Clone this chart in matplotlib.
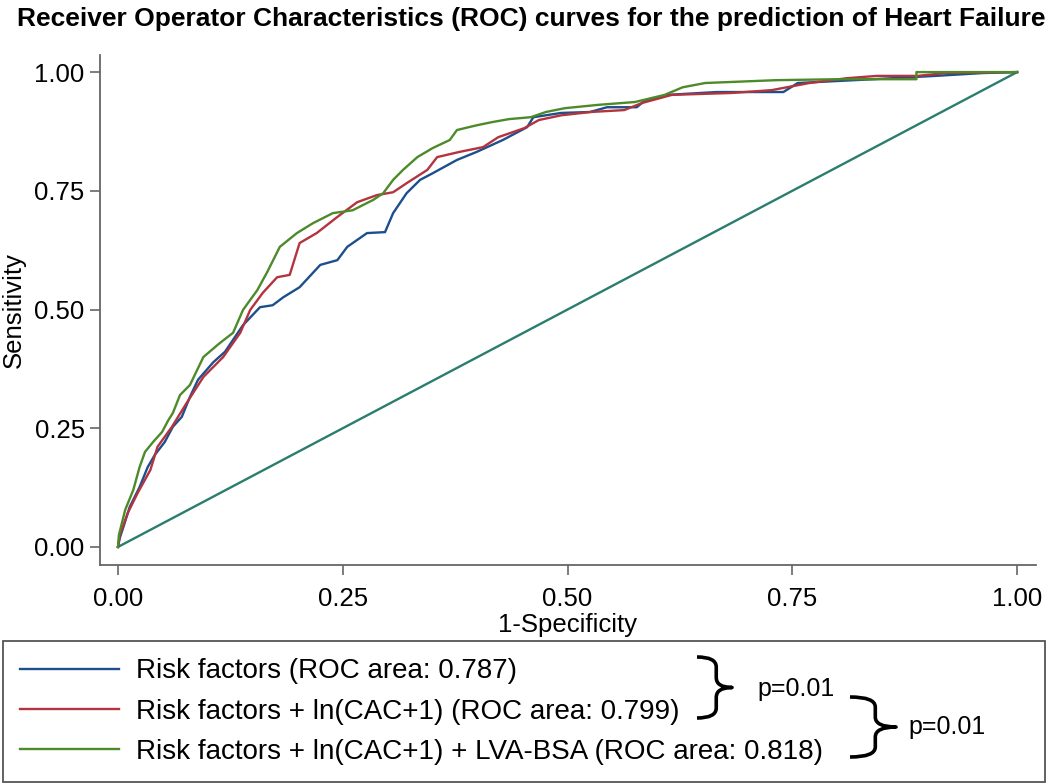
import matplotlib
matplotlib.use("Agg")
import matplotlib.pyplot as plt
from matplotlib.path import Path
from matplotlib.patches import PathPatch

# ---------------- data ----------------
rf_fpr = [0, 0.002, 0.006, 0.013, 0.024, 0.033, 0.041, 0.052, 0.061, 0.071, 0.080, 0.089,
          0.106, 0.119, 0.139, 0.158, 0.172, 0.184, 0.202, 0.225, 0.244, 0.255, 0.277, 0.297,
          0.306, 0.321, 0.336, 0.350, 0.377, 0.399, 0.428, 0.455, 0.462, 0.493, 0.525, 0.544,
          0.577, 0.584, 0.611, 0.666, 0.740, 0.756, 0.840, 0.909, 0.962, 1.0]
rf_tpr = [0, 0.019, 0.042, 0.084, 0.126, 0.168, 0.194, 0.221, 0.253, 0.274, 0.316, 0.352,
          0.389, 0.411, 0.467, 0.505, 0.509, 0.526, 0.547, 0.594, 0.604, 0.632, 0.661, 0.663,
          0.703, 0.745, 0.773, 0.787, 0.815, 0.832, 0.857, 0.884, 0.905, 0.914, 0.916, 0.926,
          0.926, 0.937, 0.952, 0.958, 0.958, 0.977, 0.985, 0.992, 0.998, 1.0]

cac_fpr = [0, 0.002, 0.011, 0.022, 0.036, 0.044, 0.060, 0.075, 0.095, 0.117, 0.136, 0.147,
           0.161, 0.177, 0.191, 0.202, 0.221, 0.244, 0.266, 0.288, 0.306, 0.321, 0.344, 0.355,
           0.380, 0.406, 0.423, 0.452, 0.468, 0.493, 0.526, 0.563, 0.583, 0.616, 0.682, 0.727,
           0.769, 0.810, 0.844, 0.889, 0.921, 1.0]
cac_tpr = [0, 0.025, 0.072, 0.114, 0.162, 0.211, 0.253, 0.299, 0.358, 0.400, 0.451, 0.499,
           0.535, 0.568, 0.573, 0.640, 0.661, 0.695, 0.726, 0.741, 0.747, 0.766, 0.794, 0.821,
           0.832, 0.842, 0.863, 0.882, 0.899, 0.909, 0.916, 0.920, 0.935, 0.952, 0.956, 0.962,
           0.977, 0.987, 0.992, 0.992, 0.998, 1.0]

lva_fpr = [0, 0.001, 0.008, 0.017, 0.024, 0.030, 0.039, 0.049, 0.056, 0.061, 0.069, 0.080,
           0.095, 0.113, 0.128, 0.139, 0.155, 0.166, 0.180, 0.199, 0.217, 0.239, 0.261, 0.284,
           0.295, 0.306, 0.317, 0.333, 0.350, 0.369, 0.377, 0.399, 0.417, 0.435, 0.459, 0.476,
           0.497, 0.534, 0.575, 0.608, 0.628, 0.653, 0.732, 0.801, 0.888, 0.888, 1.0]
lva_tpr = [0, 0.025, 0.078, 0.120, 0.168, 0.200, 0.221, 0.242, 0.267, 0.282, 0.320, 0.341,
           0.400, 0.429, 0.451, 0.499, 0.541, 0.579, 0.632, 0.661, 0.682, 0.703, 0.709, 0.731,
           0.745, 0.773, 0.794, 0.821, 0.840, 0.857, 0.878, 0.888, 0.895, 0.901, 0.905, 0.916,
           0.924, 0.931, 0.937, 0.952, 0.968, 0.977, 0.983, 0.985, 0.985, 1.0, 1.0]

ref_x = [0, 1]
ref_y = [0, 1]

labels = ["Risk factors (ROC area: 0.787)",
          "Risk factors + ln(CAC+1) (ROC area: 0.799)",
          "Risk factors + ln(CAC+1) + LVA-BSA (ROC area: 0.818)"]
p_values = ["p=0.01", "p=0.01"]
ticks = [0, 0.25, 0.5, 0.75, 1.0]
tick_labels = ["0.00", "0.25", "0.50", "0.75", "1.00"]
title = "Receiver Operator Characteristics (ROC) curves for the prediction of Heart Failure"

# ---------------- styling ----------------
plt.rcParams['font.family'] = ['Liberation Sans', 'DejaVu Sans']
W, H = 1050, 784
fig = plt.figure(figsize=(W / 100, H / 100), dpi=100)
fig.patch.set_facecolor('white')

c_blue = '#1c4f8c'
c_red = '#b3343e'
c_green = '#4d8a29'
c_diag = '#2b7d6d'
spine_c = '#666666'

ax = fig.add_axes([100 / W, 1 - 565 / H, (1036 - 100) / W, (565 - 55) / H])
l1, = ax.plot(rf_fpr, rf_tpr, color=c_blue, lw=1.7, zorder=3)
l2, = ax.plot(cac_fpr, cac_tpr, color=c_red, lw=1.7, zorder=4)
l3, = ax.plot(lva_fpr, lva_tpr, color=c_green, lw=1.7, zorder=5)
ax.plot(ref_x, ref_y, color=c_diag, lw=1.7, zorder=2)

ax.set_xlim(-0.020, 1.021)
ax.set_ylim(-0.038, 1.036)
for s in ['top', 'right']:
    ax.spines[s].set_visible(False)
for s in ['left', 'bottom']:
    ax.spines[s].set_color(spine_c)
    ax.spines[s].set_linewidth(1.3)
ax.set_xticks(ticks)
ax.set_xticklabels(tick_labels)
ax.set_yticks(ticks)
ax.set_yticklabels(tick_labels)
ax.tick_params(axis='both', direction='out', length=7, width=1.2, color=spine_c,
               labelsize=18.5, labelcolor='black')
ax.tick_params(axis='x', pad=9)
ax.tick_params(axis='y', pad=4)
ax.set_xlabel("1-Specificity", fontsize=18.5, labelpad=1)
ax.set_ylabel("Sensitivity", fontsize=18.5, labelpad=6)

# title, fitted to the width the reference title occupies
ttl = fig.text(531 / W, 1 - 19 / H, title, ha='center', va='center', fontsize=18,
               fontweight='bold', family=['Liberation Sans', 'DejaVu Sans'])
fig.canvas.draw()
tw = ttl.get_window_extent(renderer=fig.canvas.get_renderer()).width
ttl.set_fontsize(18 * 1030 / tw)

# ---------------- legend ----------------
leg = fig.legend([l1, l2, l3], labels, loc='lower left', mode='expand',
                 bbox_to_anchor=(3 / W, 2 / H, 1042 / W, 0.2), borderaxespad=0,
                 fontsize=20, handlelength=3.56, handletextpad=0.62, labelspacing=0.51,
                 borderpad=0.62, fancybox=False, frameon=True, framealpha=1)
leg.get_frame().set_edgecolor('#555555')
leg.get_frame().set_linewidth(1.3)
leg.set_zorder(1)
for ln in leg.get_lines():
    ln.set_linewidth(1.7)

# overlay for braces and p-values (pixel coordinates)
ov = fig.add_axes([0, 0, 1, 1], facecolor='none')
ov.set_zorder(10)
ov.set_xlim(0, W)
ov.set_ylim(H, 0)
ov.axis('off')


def brace(x0, x1, y0, y1):
    ym = (y0 + y1) / 2
    xm = x0 + (x1 - x0) * 0.55
    r = min(10, (y1 - y0) / 4)
    verts = [(x0, y0), (xm, y0), (xm, y0 + r),
             (xm, ym - r), (xm, ym), (x1, ym),
             (xm, ym), (xm, ym + r),
             (xm, y1 - r), (xm, y1), (x0, y1)]
    codes = [Path.MOVETO, Path.CURVE3, Path.CURVE3,
             Path.LINETO, Path.CURVE3, Path.CURVE3,
             Path.CURVE3, Path.CURVE3,
             Path.LINETO, Path.CURVE3, Path.CURVE3]
    ov.add_patch(PathPatch(Path(verts, codes), fill=False, lw=2.6, edgecolor='black',
                           capstyle='butt', joinstyle='round'))


brace(697, 732, 657, 718)
brace(850, 896, 697, 757)
ov.text(757, 689, p_values[0], fontsize=18, va='center', ha='left')
ov.text(908, 727, p_values[1], fontsize=18, va='center', ha='left')

fig.savefig("out.png", dpi=100)
